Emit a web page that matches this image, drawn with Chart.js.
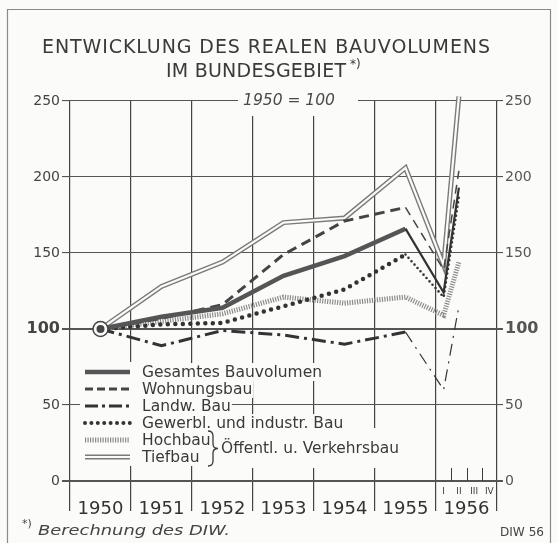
<!DOCTYPE html>
<html>
<head>
<meta charset="utf-8">
<script src="https://cdn.jsdelivr.net/npm/chart.js@4.4.0/dist/chart.umd.min.js"></script>
<style>
  html, body { margin: 0; padding: 0; background: #fbfbf9; }
  canvas { display: block; }
</style>
</head>
<body>
<canvas id="bauChart" width="558" height="543"></canvas>
<script>
// --- data (index 1950 = 100) ---
const xPos = [1950, 1951, 1952, 1953, 1954, 1955, 1955.625, 1955.875]; // last two = 1956 I. and II. quarter
const yearLabels = ["1950", "1951", "1952", "1953", "1954", "1955", "1956"];
const quarterLabels = ["I", "II", "III", "IV"];
const yTicks = [0, 50, 100, 150, 200, 250];

const gesamt  = [100, 108, 114, 135, 148, 166, 124, 193];
const wohnung = [100, 107, 116, 149, 171, 180, 139, 204];
const landw   = [100,  89,  99,  96,  90,  98,  60, 115];
const gewerbl = [100, 103, 104, 115, 126, 149, 121, 187];
const hochbau = [100, 105, 110, 121, 117, 121, 109, 144];
const tiefbau = [100, 128, 144, 170, 173, 206, 142, 253];

const seriesNames = ["Gesamtes Bauvolumen", "Wohnungsbau", "Landw. Bau",
  "Gewerbl. und industr. Bau", "Hochbau", "Tiefbau"];
const braceLabel = "Öffentl. u. Verkehrsbau";

const bg = "#fbfbf9";
const ink = "#3a3a3a";
const grid = "#555";

const pts = arr => arr.map((v, i) => ({ x: xPos[i], y: v }));
const late = c => c.p0DataIndex >= 5; // segments after 1955 are drawn thinner

const xTicks = [];
for (let y = 1950; y <= 1956; y++) xTicks.push(y - 0.5, y);
xTicks.push(1956.5);

const base = { pointRadius: 0, tension: 0, fill: false, clip: false };

// draws text squeezed/stretched to a given width
function fitText(c, text, x, y, w, font, align) {
  c.save();
  c.font = font;
  c.textBaseline = "middle";
  c.textAlign = "left";
  const m = c.measureText(text).width;
  const left = align === "center" ? x - w / 2 : x;
  c.translate(left, y);
  c.scale(w / m, 1);
  c.fillText(text, 0, 0);
  c.restore();
}

function spacedText(c, text, cx, y, w, font) {
  c.save();
  c.font = font;
  c.textBaseline = "middle";
  c.textAlign = "left";
  c.letterSpacing = "0px";
  const m = c.measureText(text).width;
  const sp = (w - m) / (text.length - 1);
  c.letterSpacing = sp + "px";
  c.fillText(text, cx - w / 2, y);
  c.restore();
}

function sample(c, y, opt) {
  c.save();
  c.strokeStyle = opt.color;
  c.lineWidth = opt.width;
  c.setLineDash(opt.dash || []);
  c.lineCap = opt.cap || "butt";
  c.beginPath();
  c.moveTo(85, y);
  c.lineTo(130, y);
  c.stroke();
  c.restore();
}

const decor = {
  id: "decor",
  beforeDraw(chart) {
    const c = chart.ctx;
    c.save();
    c.fillStyle = bg;
    c.fillRect(0, 0, chart.width, chart.height);
    c.strokeStyle = "#8a8a8a";
    c.lineWidth = 1.2;
    c.beginPath();
    c.moveTo(7.5, 543); c.lineTo(7.5, 9.5); c.lineTo(550.5, 9.5); c.lineTo(550.5, 543);
    c.stroke();
    c.restore();
  },
  afterDraw(chart) {
    const c = chart.ctx;
    const xs = chart.scales.x;
    c.save();
    c.fillStyle = ink;

    // title
    spacedText(c, "ENTWICKLUNG DES REALEN BAUVOLUMENS", 266, 48, 448, "19px 'DejaVu Sans'");
    spacedText(c, "IM BUNDESGEBIET", 256, 72, 180, "19px 'DejaVu Sans'");
    c.font = "12px 'DejaVu Sans'";
    c.textBaseline = "middle";
    c.fillText("*)", 350, 65);

    // base label, gap in top gridline
    c.fillStyle = bg;
    c.fillRect(238, 92, 120, 24);
    c.fillStyle = "#4a4a4a";
    fitText(c, "1950 = 100", 289, 101, 92, "italic 15px 'DejaVu Sans'", "center");

    // quarter marks in 1956
    c.strokeStyle = ink;
    c.lineWidth = 1;
    [1955.75, 1956, 1956.25].forEach(v => {
      const px = Math.round(xs.getPixelForValue(v)) + 0.5;
      c.beginPath(); c.moveTo(px, 468); c.lineTo(px, 481); c.stroke();
    });
    c.fillStyle = ink;
    c.font = "9px 'DejaVu Sans'";
    c.textAlign = "center";
    quarterLabels.forEach((q, i) => {
      c.fillText(q, xs.getPixelForValue(1955.625 + i * 0.25), 492);
    });

    // legend
    const rows = [372, 389, 406, 423, 440, 457];
    c.font = "15.5px 'DejaVu Sans'";
    c.textAlign = "left";
    c.fillStyle = bg;
    c.fillRect(80, 362, 57, 104);
    seriesNames.forEach((name, i) => {
      const w = c.measureText(name).width;
      c.fillRect(137, rows[i] - 9, w + 6, 18);
    });
    const bw = c.measureText(braceLabel).width;
    c.fillRect(205, 428, bw + 20, 40);

    sample(c, rows[0], { color: "#555", width: 4.5 });
    sample(c, rows[1], { color: "#444", width: 3, dash: [8, 4] });
    sample(c, rows[2], { color: "#333", width: 3, dash: [13, 4, 3, 4] });
    sample(c, rows[3], { color: "#333", width: 4, dash: [0, 6.4], cap: "round" });
    sample(c, rows[4], { color: "#8c8c8c", width: 5, dash: [1.2, 1.3] });
    sample(c, rows[5], { color: "#7a7a7a", width: 5 });
    sample(c, rows[5], { color: bg, width: 2.2 });

    c.fillStyle = ink;
    seriesNames.forEach((name, i) => c.fillText(name, 142, rows[i] + 1));

    // brace
    c.strokeStyle = ink;
    c.lineWidth = 1.3;
    c.beginPath();
    c.moveTo(208, 431);
    c.quadraticCurveTo(213, 431, 213, 436);
    c.lineTo(213, 444);
    c.quadraticCurveTo(213, 448.5, 218, 448.5);
    c.quadraticCurveTo(213, 448.5, 213, 453);
    c.lineTo(213, 461);
    c.quadraticCurveTo(213, 466, 208, 466);
    c.stroke();
    fitText(c, braceLabel, 221, 449, 178, "15.5px 'DejaVu Sans'", "left");

    // footnote and source
    c.fillStyle = "#444";
    c.font = "11px 'DejaVu Sans'";
    c.textAlign = "left";
    c.fillText("*)", 22, 524);
    fitText(c, "Berechnung des DIW.", 38, 531, 192, "italic 14px 'DejaVu Sans'", "left");
    fitText(c, "DIW 56", 500, 533, 44, "13px 'DejaVu Sans'", "left");
    c.restore();
  }
};

new Chart(document.getElementById("bauChart"), {
  type: "line",
  data: {
    datasets: [
      { ...base, label: "Tiefbau", data: pts(tiefbau), borderColor: "#7a7a7a", borderWidth: 5, order: 7 },
      { ...base, label: "Tiefbau", data: pts(tiefbau), borderColor: bg, borderWidth: 2.2, order: 6 },
      { ...base, label: "Hochbau", data: pts(hochbau), borderColor: "#8c8c8c", borderWidth: 5,
        borderDash: [1.2, 1.3], order: 5 },
      { ...base, label: "Gewerbl.", data: pts(gewerbl), borderColor: "#333", borderWidth: 4.5,
        borderDash: [0, 7.5], borderCapStyle: "round", order: 4,
        segment: { borderWidth: c => late(c) ? 2.6 : 4.5, borderDash: c => late(c) ? [0, 4.5] : [0, 7.5] } },
      { ...base, label: "Landw.", data: pts(landw), borderColor: "#333", borderWidth: 3,
        borderDash: [14, 5, 3, 5], order: 3,
        segment: { borderWidth: c => late(c) ? 1.2 : 3, borderDash: c => late(c) ? [12, 6, 2, 6] : [14, 5, 3, 5] } },
      { ...base, label: "Wohnung", data: pts(wohnung), borderColor: "#444", borderWidth: 3,
        borderDash: [10, 6], order: 2,
        segment: { borderWidth: c => late(c) ? 1.5 : 3, borderDash: c => late(c) ? [9, 6] : [10, 6] } },
      { ...base, label: "Gesamt", data: pts(gesamt), borderColor: "#555", borderWidth: 4.5, order: 1,
        segment: { borderWidth: c => late(c) ? 2.2 : 4.5, borderColor: c => late(c) ? "#333" : "#555" } },
      { ...base, label: "ring", data: pts(gesamt.slice(0, 1)), showLine: false, pointRadius: 7.5,
        pointBackgroundColor: bg, pointBorderColor: "#444", pointBorderWidth: 1.5, order: -1 },
      { ...base, label: "dot", data: pts(gesamt.slice(0, 1)), showLine: false, pointRadius: 4,
        pointBackgroundColor: "#444", pointBorderWidth: 0, order: -2 }
    ]
  },
  options: {
    responsive: false,
    devicePixelRatio: 1,
    animation: false,
    layout: { padding: { top: 101, left: 0, right: 0, bottom: 0 } },
    plugins: { legend: { display: false }, tooltip: { enabled: false } },
    scales: {
      x: {
        type: "linear", min: 1949.5, max: 1956.5,
        afterBuildTicks: s => { s.ticks = xTicks.map(v => ({ value: v })); },
        afterFit: s => { s.height = 62; },
        ticks: {
          autoSkip: false, maxRotation: 0, minRotation: 0, padding: -12,
          color: "#333", font: { family: "'DejaVu Sans'", size: 18 },
          callback: v => Number.isInteger(v) ? yearLabels[v - 1950] : ""
        },
        grid: {
          color: c => Number.isInteger(c.tick.value) ? "rgba(0,0,0,0)" : "#444",
          lineWidth: 1.2, tickLength: 30
        },
        border: { display: false }
      },
      y: {
        position: "left", min: 0, max: 250,
        afterBuildTicks: s => { s.ticks = yTicks.map(v => ({ value: v })); },
        afterFit: s => { s.width = 70; },
        ticks: {
          padding: 2, color: "#444",
          font: c => c.tick && c.tick.value === 100
            ? { family: "'DejaVu Sans'", size: 16, weight: "bold" }
            : { family: "'DejaVu Sans'", size: 14 }
        },
        grid: {
          color: grid, tickLength: 8,
          lineWidth: c => (c.tick.value === 0 || c.tick.value === 100) ? 2 : 1.1
        },
        border: { display: false }
      },
      y2: {
        position: "right", min: 0, max: 250,
        afterBuildTicks: s => { s.ticks = yTicks.map(v => ({ value: v })); },
        afterFit: s => { s.width = 61; },
        ticks: {
          padding: 2, color: "#555",
          font: c => c.tick && c.tick.value === 100
            ? { family: "'DejaVu Sans'", size: 16, weight: "bold" }
            : { family: "'DejaVu Sans'", size: 14 }
        },
        grid: { drawOnChartArea: false, color: grid, tickLength: 6,
          lineWidth: c => (c.tick.value === 0 || c.tick.value === 100) ? 2 : 1.1 },
        border: { display: false }
      }
    }
  },
  plugins: [decor]
});
</script>
</body>
</html>
